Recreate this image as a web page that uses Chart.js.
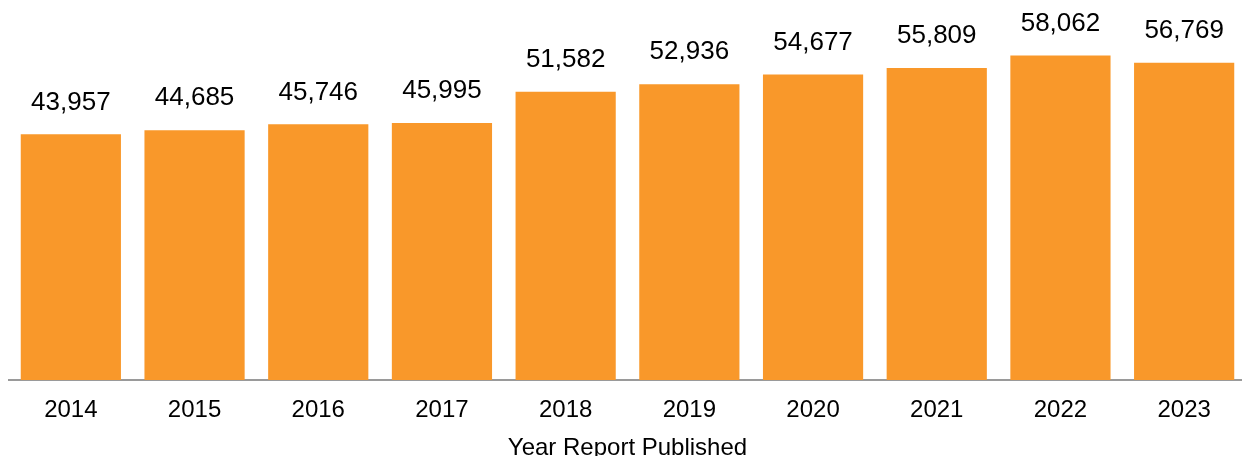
<!DOCTYPE html>
<html>
<head>
<meta charset="utf-8">
<script src="https://cdn.jsdelivr.net/npm/chart.js@4"></script>
<style>
    html, body { margin: 0; padding: 0; background: #fff; overflow: hidden; }
    #wrap { width: 1246px; height: 456px; }
</style>
</head>
<body>
<div id="wrap"><canvas id="myChart"></canvas></div>
<script>
const years = ['2014', '2015', '2016', '2017', '2018', '2019', '2020', '2021', '2022', '2023'];
const totals = [43957, 44685, 45746, 45995, 51582, 52936, 54677, 55809, 58062, 56769];
const axisTitle = 'Year Report Published';

const fontFamily = '"Liberation Sans", Arial, sans-serif';

// labels over each bar
const valueLabels = {
    id: 'valueLabels',
    afterDatasetsDraw(chart) {
        const ctx = chart.ctx;
        const meta = chart.getDatasetMeta(0);
        ctx.save();
        ctx.font = '26px ' + fontFamily;
        ctx.fillStyle = '#000';
        ctx.textAlign = 'center';
        ctx.textBaseline = 'middle';
        meta.data.forEach((bar, i) => {
            ctx.fillText(totals[i].toLocaleString('en-US'), bar.x, bar.y - 32);
        });
        ctx.restore();
    }
};

const ctx = document.getElementById('myChart');

new Chart(ctx, {
    type: 'bar',
    data: {
        labels: years,
        datasets: [{
            data: totals,
            backgroundColor: '#F9982A',
            borderWidth: 0,
            categoryPercentage: 1,
            barPercentage: 0.81
        }]
    },
    options: {
        responsive: true,
        maintainAspectRatio: false,
        animation: false,
        layout: { padding: { left: 9, right: 0, top: 0, bottom: 0 } },
        plugins: {
            legend: { display: false },
            tooltip: { enabled: false }
        },
        scales: {
            x: {
                grid: { display: false, drawTicks: false, tickLength: 0 },
                border: { display: true, color: '#9a9a9a', width: 2 },
                ticks: {
                    color: '#000',
                    padding: 18,
                    font: { family: fontFamily, size: 24, lineHeight: 1 }
                },
                title: {
                    display: true,
                    text: axisTitle,
                    color: '#000',
                    padding: { top: 0, bottom: 0 },
                    font: { family: fontFamily, size: 24, lineHeight: 0.667 }
                }
            },
            y: {
                display: false,
                beginAtZero: true,
                min: 0,
                max: 68000
            }
        }
    },
    plugins: [valueLabels]
});
</script>
</body>
</html>
